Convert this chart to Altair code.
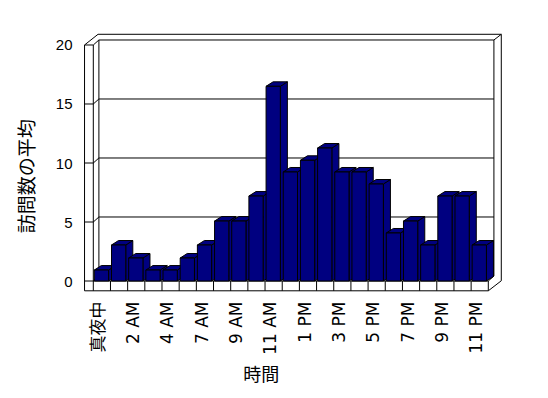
import json
import altair as alt
import pandas as pd

# ---- data ----
categories = ["真夜中", "1 AM", "2 AM", "3 AM", "4 AM", "6 AM", "7 AM", "8 AM", "9 AM",
              "10 AM", "11 AM", "12 PM", "1 PM", "2 PM", "3 PM", "4 PM", "5 PM", "6 PM",
              "7 PM", "8 PM", "9 PM", "10 PM", "11 PM"]
values = [0.93, 3.05, 1.95, 0.93, 0.93, 1.95, 3.05, 5.08, 5.08, 7.2, 16.5, 9.24, 10.23,
          11.27, 9.24, 9.24, 8.22, 4.07, 5.08, 3.05, 7.2, 7.2, 3.05]
y_ticks = [0, 5, 10, 15, 20]
x_title = "時間"
y_title = "訪問数の平均"

# ---- 3D look constants (in band / value units) ----
N = len(categories)
YMAX = 20
BAR_L, BAR_R = 0.06, 0.89          # front face inside each band
BDX, BDY = 0.41, 0.38              # bar depth offset
DX, DY = 0.326, 0.424              # back wall depth offset
LW = 0.51                          # left wall thickness
FB = -0.83                         # floor bottom
TDX, TDY = 0.43, 0.483             # back wall thickness
NAVY = "#000080"

xscale = alt.Scale(domain=[-0.5415, 23.797], nice=False, zero=False)
yscale = alt.Scale(domain=[-0.847, 20.932], nice=False, zero=False)

label_expr = json.dumps(categories, ensure_ascii=False) + "[floor(datum.value)]"
xaxis = alt.Axis(title=x_title, values=[i + 0.33 for i in range(0, N, 2)],
                 labelExpr=label_expr, labelAngle=270, labelAlign="right",
                 labelBaseline="middle", labelPadding=10,
                 labelFont="DejaVu Sans, Noto Sans CJK JP",
                 labelFontSize=17, labelColor="black", ticks=False, domain=False, grid=False,
                 labelOverlap=False, labelFlush=False,
                 titleFont="Noto Sans CJK JP", titleFontSize=18, titleFontWeight="normal",
                 titleColor="black", titleX=176.7, titleY=84, titleAlign="center",
                 titleBaseline="middle", titleAngle=0)
yaxis = alt.Axis(title=y_title, values=y_ticks, format="d", labelFont="Liberation Sans",
                 labelFontSize=15, labelColor="black", labelPadding=12, ticks=False,
                 domain=False, grid=False, labelFlush=False,
                 titleFont="Noto Sans CJK JP", titleFontSize=19, titleFontWeight="normal",
                 titleColor="black", titleX=-56.5, titleY=141.7, titleAngle=270,
                 titleAlign="center", titleBaseline="middle")

# ---- frame segments ----
segs = []
def seg(x1, y1, x2, y2):
    segs.append({"x1": x1, "y1": y1, "x2": x2, "y2": y2})

L = -LW
RO = N + DX + TDX
TOP_O = YMAX + DY + TDY
seg(L, FB, L, YMAX)                       # left outer
seg(L, FB, N, FB)                         # floor bottom front
seg(N, FB, RO, 0.02)                      # floor right diagonal
seg(RO, 0.02, RO, TOP_O)                  # right outer
seg(DX - 0.05, TOP_O, RO, TOP_O)          # top outer
seg(L, YMAX, DX - 0.05, TOP_O)            # top-left diagonal
seg(L, YMAX, 0, YMAX)                     # left wall top front
seg(0, 0, 0, YMAX)                        # left wall inner front edge
seg(0, YMAX, DX, YMAX + DY)               # inner diagonal
seg(DX, YMAX + DY, N + DX, YMAX + DY)     # back wall top front edge
seg(N + DX, YMAX + DY, RO, TOP_O)         # top-right diagonal
seg(DX, DY, DX, YMAX + DY)                # back wall left edge
seg(N + DX, DY, N + DX, YMAX + DY)        # back wall right edge
seg(DX, DY, N + DX, DY)                   # floor back edge
seg(0, 0, N, 0)                           # floor top front edge
seg(N, 0, N + DX, DY)                     # floor top right diagonal
for i in range(N + 1):
    seg(i, FB, i, 0)                      # floor dividers
for v in y_ticks[:-1]:
    seg(L, v, 0, v)                       # tick on wall front
    seg(0, v, DX, v + DY)                 # tick on wall side
for v in y_ticks[1:-1]:
    seg(DX, v + DY, N + DX, v + DY)       # back wall gridlines
frame = pd.DataFrame(segs)

# ---- bar faces ----
front = pd.DataFrame({"i": range(N), "h": values})
front["xl"] = front["i"] + BAR_L
front["xr"] = front["i"] + BAR_R
front["y0"] = 0.0

side_rows, top_rows = [], []
for i, h in enumerate(values):
    xl, xr = i + BAR_L, i + BAR_R
    side_rows.append({"id": i, "x": xr, "y": 0.0, "y2": h})
    side_rows.append({"id": i, "x": xr + BDX, "y": BDY, "y2": h + BDY})
    top_rows.append({"id": i, "y": h, "x": xl, "x2": xr})
    top_rows.append({"id": i, "y": h + BDY, "x": xl + BDX, "x2": xr + BDX})
side = pd.DataFrame(side_rows)
top = pd.DataFrame(top_rows)

frame_layer = alt.Chart(frame).mark_rule(color="black", strokeWidth=1).encode(
    x=alt.X("x1:Q", scale=xscale, axis=xaxis),
    x2="x2:Q",
    y=alt.Y("y1:Q", scale=yscale, axis=yaxis),
    y2="y2:Q",
)
side_layer = alt.Chart(side).mark_area(orient="vertical", fill=NAVY, stroke="black",
                                       strokeWidth=1, opacity=1).encode(
    x=alt.X("x:Q", scale=xscale, axis=xaxis),
    y=alt.Y("y:Q", scale=yscale, axis=yaxis),
    y2="y2:Q",
    detail="id:N",
)
top_layer = alt.Chart(top).mark_area(orient="horizontal", fill=NAVY, stroke="black",
                                     strokeWidth=1, opacity=1).encode(
    y=alt.Y("y:Q", scale=yscale, axis=yaxis),
    x=alt.X("x:Q", scale=xscale, axis=xaxis),
    x2="x2:Q",
    detail="id:N",
)
front_layer = alt.Chart(front).mark_rect(fill=NAVY, stroke="black", strokeWidth=1).encode(
    x=alt.X("xl:Q", scale=xscale, axis=xaxis),
    x2="xr:Q",
    y=alt.Y("y0:Q", scale=yscale, axis=yaxis),
    y2="h:Q",
)

chart = alt.layer(frame_layer, side_layer, top_layer, front_layer).properties(
    width=418, height=257,
    autosize=alt.AutoSizeParams(type="none"),
    padding={"left": 84, "top": 34, "right": 46, "bottom": 107},
    background="white",
).configure_view(stroke=None)

chart.save("out.html", embed_options={"renderer": "svg", "actions": False})
